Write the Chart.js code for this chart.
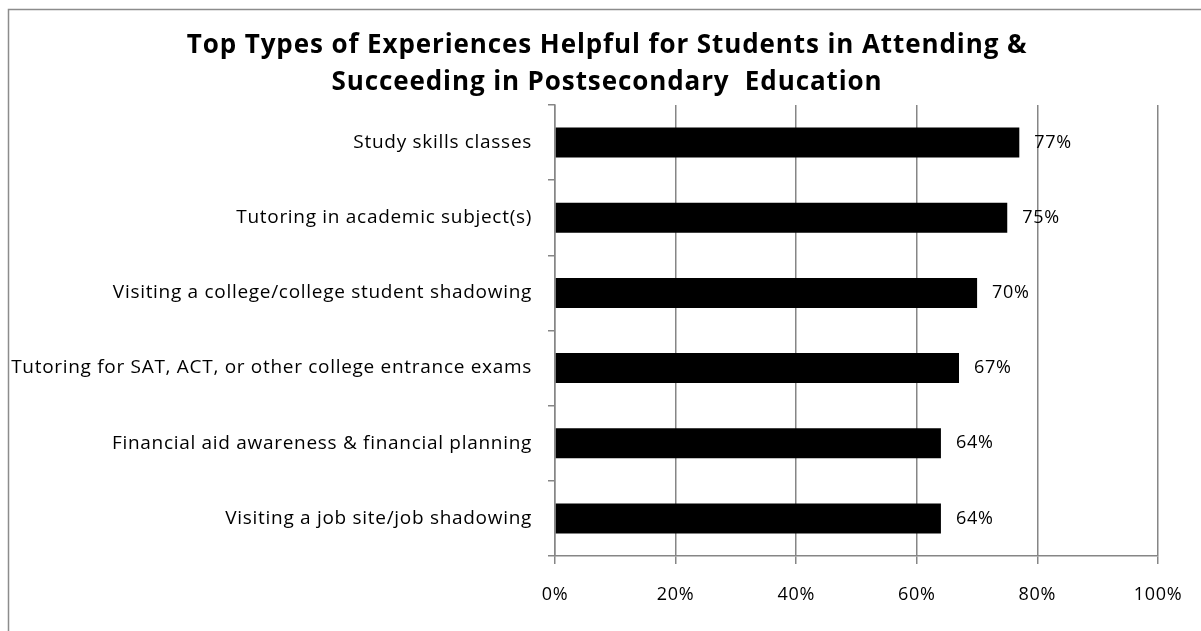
<!DOCTYPE html>
<html>
<head>
<meta charset="utf-8">
<script src="https://cdn.jsdelivr.net/npm/chart.js@4"></script>
<style>
  html, body { margin: 0; padding: 0; background: #fff; overflow: hidden; }
  #wrap { position: relative; width: 1201px; height: 631px; }
</style>
</head>
<body>
<div id="wrap"><canvas id="chart" width="1201" height="631"></canvas></div>
<script>
// Chart data
const titleLines = ['Top Types of Experiences Helpful for Students in Attending &', 'Succeeding in Postsecondary  Education'];
const categories = [
  'Study skills classes',
  'Tutoring in academic subject(s)',
  'Visiting a college/college student shadowing',
  'Tutoring for SAT, ACT, or other college entrance exams',
  'Financial aid awareness & financial planning',
  'Visiting a job site/job shadowing'
];
const percentValues = [77, 75, 70, 67, 64, 64];
const axisTicks = [0, 20, 40, 60, 80, 100];

const FONT = '"Open Sans", Lato, sans-serif';
const GRID = '#868686';

// Outer frame + title (Excel-ish spacing is wider than Open Sans)
const framePlugin = {
  id: 'frame',
  beforeDraw(chart) {
    const ctx = chart.ctx;
    ctx.save();
    ctx.fillStyle = '#fff';
    ctx.fillRect(0, 0, chart.width, chart.height);
    ctx.strokeStyle = '#8c8c8c';
    ctx.lineWidth = 1.5;
    ctx.strokeRect(8.5, 9.5, 1400, 800);
    ctx.fillStyle = '#000';
    ctx.font = 'bold 26px ' + FONT;
    ctx.letterSpacing = '0.9px';
    ctx.textAlign = 'center';
    ctx.textBaseline = 'middle';
    ctx.fillText(titleLines[0], 607, 46);
    ctx.fillText(titleLines[1], 607, 83);
    ctx.restore();
    // axis texts drawn after this keep the spacing
    ctx.letterSpacing = '0.7px';
  }
};

// Value labels to the right of each bar
const valueLabels = {
  id: 'valueLabels',
  afterDatasetsDraw(chart) {
    const ctx = chart.ctx;
    const meta = chart.getDatasetMeta(0);
    ctx.save();
    ctx.letterSpacing = '0.7px';
    ctx.fillStyle = '#000';
    ctx.font = '18px ' + FONT;
    ctx.textAlign = 'left';
    ctx.textBaseline = 'middle';
    meta.data.forEach((bar, i) => {
      ctx.fillText(percentValues[i] + '%', bar.x + 15, bar.y);
    });
    ctx.restore();
  }
};

new Chart(document.getElementById('chart'), {
  type: 'bar',
  data: {
    labels: categories,
    datasets: [{
      data: percentValues,
      backgroundColor: '#000',
      borderWidth: 0,
      barPercentage: 0.4,
      categoryPercentage: 1.0
    }]
  },
  options: {
    indexAxis: 'y',
    responsive: false,
    animation: false,
    devicePixelRatio: 1,
    layout: { padding: { top: 105, right: 43, left: 0, bottom: 0 } },
    plugins: {
      legend: { display: false },
      title: { display: false },
      tooltip: { enabled: false }
    },
    scales: {
      x: {
        min: 0,
        max: 100,
        afterBuildTicks(scale) {
          scale.ticks = axisTicks.map(v => ({ value: v }));
        },
        afterFit(scale) { scale.height = 75; },
        border: { display: true, color: GRID, width: 1.5 },
        grid: { color: GRID, lineWidth: 1.5, tickLength: 8, drawTicks: true },
        ticks: {
          color: '#000',
          font: { family: FONT, size: 18 },
          padding: 20,
          callback: v => v + '%'
        }
      },
      y: {
        afterFit(scale) { scale.width = 555; },
        border: { display: true, color: GRID, width: 1.5 },
        grid: { drawOnChartArea: false, color: GRID, lineWidth: 1.5, tickLength: 7, offset: true },
        ticks: {
          color: '#000',
          font: { family: FONT, size: 19 },
          padding: 16
        }
      }
    }
  },
  plugins: [framePlugin, valueLabels]
});
</script>
</body>
</html>
